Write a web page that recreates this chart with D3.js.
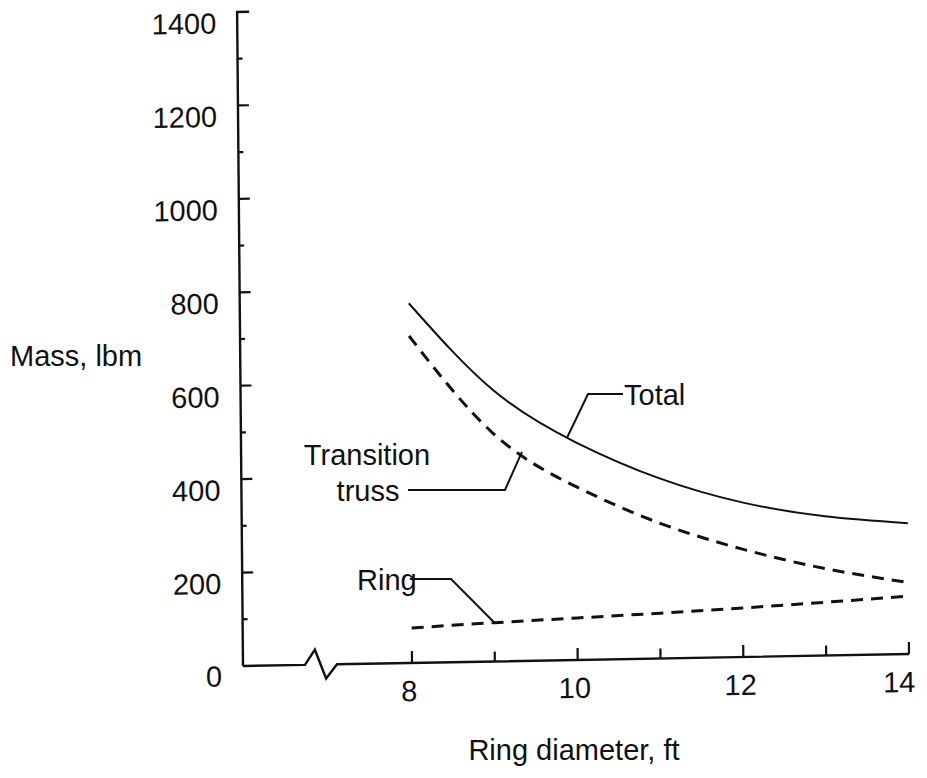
<!DOCTYPE html>
<html>
<head>
<meta charset="utf-8">
<script src="https://cdn.jsdelivr.net/npm/d3@7"></script>
<style>
  body { margin: 0; background: #fff; }
  svg text { font-family: "Liberation Sans", Arial, Helvetica, sans-serif; fill: #111; }
</style>
</head>
<body>
<svg id="chart" width="927" height="778"></svg>
<script>
// Mass of the ring assembly versus ring diameter
const diameters = [8, 9, 10, 11, 12, 13, 14];
const totalMass = [770, 582, 466, 386, 331, 298, 280];
const trussMass = [700, 489, 371, 290, 231, 186, 153];
const ringMass  = [75, 83, 90, 97, 105, 114, 124];

const xTickValues = [8, 9, 10, 11, 12, 13, 14];
const xTickLabels = ["8", "10", "12", "14"];
const yTickValues = d3.range(100, 1401, 100);
const yTickLabels = ["0", "200", "400", "600", "800", "1000", "1200", "1400"];

const svg = d3.select("#chart");

// plot frame: origin at the axis corner, slightly sheared like the printed page
const origin = { x: 243, y: 666 };
const shear = { xy: 0.009, yx: -0.018 };
const toScreen = (u, v) => [origin.x + u + shear.xy * v, origin.y + shear.yx * u + v];

const x = d3.scaleLinear().domain([8, 14]).range([169, 666]);
const y = d3.scaleLinear().domain([0, 1400]).range([0, -654]);

const g = svg.append("g")
  .attr("transform", `matrix(1,${shear.yx},${shear.xy},1,${origin.x},${origin.y})`);

const axisStyle = sel => sel.attr("fill", "none").attr("stroke", "#111")
  .attr("stroke-width", 2.4).attr("stroke-linejoin", "miter");

// y axis with a hook at the top
g.append("path").call(axisStyle)
  .attr("d", `M0,0V${y(1400)}h12`);

// y ticks: long at labelled values, short between
g.selectAll(".ytick").data(yTickValues.filter(v => v < 1400)).join("line")
  .attr("class", "ytick")
  .attr("x1", 0).attr("x2", d => d % 200 === 0 ? 11 : 5)
  .attr("y1", d => y(d)).attr("y2", d => y(d))
  .attr("stroke", "#111").attr("stroke-width", 2.2);

// x axis with a scale break near the origin
const xEnd = x(14);
g.append("path").call(axisStyle)
  .attr("d", `M0,0H62L72,-15L83,14L94,0H${xEnd}`);

g.selectAll(".xtick").data(xTickValues).join("line")
  .attr("class", "xtick")
  .attr("x1", d => x(d)).attr("x2", d => x(d))
  .attr("y1", 0).attr("y2", d => d % 2 === 0 ? -12 : -10)
  .attr("stroke", "#111").attr("stroke-width", 2.2);

// tick labels
g.selectAll(".ylabel").data(yTickLabels).join("text")
  .attr("class", "ylabel")
  .attr("x", -21).attr("y", d => y(+d) + (+d === 0 ? 20 : 21))
  .attr("text-anchor", "end").attr("font-size", 29)
  .text(d => d);

g.selectAll(".xlabel").data(xTickLabels).join("text")
  .attr("class", "xlabel")
  .attr("x", d => x(+d) - (d === "14" ? 10 : 3)).attr("y", 38)
  .attr("text-anchor", "middle").attr("font-size", 29)
  .text(d => d);

// curves
const series = [
  { name: "total", values: totalMass, dash: null, width: 2 },
  { name: "truss", values: trussMass, dash: "12,8", width: 3 },
  { name: "ring",  values: ringMass,  dash: "12,8", width: 3 }
];
const line = d3.line()
  .x(d => x(d[0])).y(d => y(d[1]))
  .curve(d3.curveNatural);

g.selectAll(".curve").data(series).join("path")
  .attr("class", "curve")
  .attr("d", s => line(diameters.map((dm, i) => [dm, s.values[i]])))
  .attr("fill", "none").attr("stroke", "#111")
  .attr("stroke-width", s => s.width)
  .attr("stroke-dasharray", s => s.dash);

// leader anchor on a series, interpolated between the two nearest points
function anchor(values, dm) {
  const i = Math.min(diameters.length - 2, Math.max(0, d3.bisectRight(diameters, dm) - 1));
  const t = (dm - diameters[i]) / (diameters[i + 1] - diameters[i]);
  const v = values[i] + t * (values[i + 1] - values[i]);
  return toScreen(x(dm), y(v));
}

const labelFont = 29;
const leader = pts => svg.append("path")
  .attr("d", d3.line()(pts))
  .attr("fill", "none").attr("stroke", "#111").attr("stroke-width", 2);

// Total
const aTotal = anchor(totalMass, 9.9);
leader([aTotal, [588, 394], [623, 394]]);
svg.append("text").attr("x", 624).attr("y", 405).attr("font-size", labelFont).text("Total");

// Transition truss
const aTruss = anchor(trussMass, 9.35);
leader([[408, 490], [505, 490], aTruss]);
svg.append("text").attr("x", 367).attr("y", 465).attr("text-anchor", "middle")
  .attr("font-size", labelFont).text("Transition");
svg.append("text").attr("x", 368).attr("y", 501).attr("text-anchor", "middle")
  .attr("font-size", labelFont).text("truss");

// Ring
const aRing = anchor(ringMass, 9.0);
leader([[410, 579], [451, 579], aRing]);
svg.append("text").attr("x", 357).attr("y", 590).attr("font-size", labelFont).text("Ring");

// axis titles
svg.append("text").attr("x", 10).attr("y", 366).attr("font-size", labelFont).text("Mass, lbm");
svg.append("text").attr("x", 574).attr("y", 760).attr("text-anchor", "middle")
  .attr("font-size", labelFont).text("Ring diameter, ft");
</script>
</body>
</html>
